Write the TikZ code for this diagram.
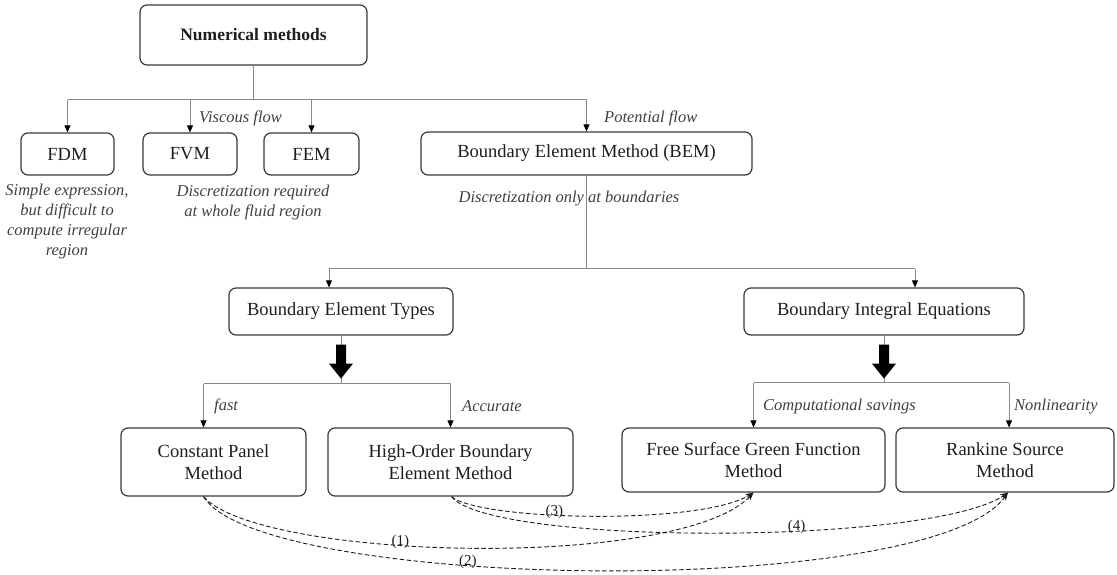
\documentclass[tikz,border=0pt]{standalone}
\usepackage{fontspec}
\setmainfont{Liberation Serif}
\usetikzlibrary{arrows.meta,calc}
\definecolor{boxline}{HTML}{3A3A3A}
\definecolor{wire}{HTML}{8A8A8A}
\definecolor{ink}{HTML}{1E1E1E}
\begin{document}
\begin{tikzpicture}[x=1pt,y=-1pt,
  box/.style={draw=boxline, line width=1.2pt, rounded corners=7pt, align=center,
    text=ink, inner sep=0pt, font=\fontsize{18.5}{22}\selectfont},
  note/.style={text=ink!85, font=\fontsize{16.5}{20}\selectfont\itshape,
    inner sep=0pt, align=center},
  wireline/.style={draw=wire, line width=0.8pt},
  wirearrow/.style={wireline, -{Triangle[length=7pt,width=6pt,color=black]}},
  link/.style={draw=ink, line width=0.9pt, dash pattern=on 4.5pt off 2.5pt,
    -{Stealth[length=8pt,width=6pt]}},
  tag/.style={font=\fontsize{15}{18}\selectfont, text=ink, inner sep=0pt, anchor=base},
  blockarrow/.pic={\fill[black] (-5,9) -- (5,9) -- (5,28) -- (12,28) -- (0,43)
    -- (-12,28) -- (-5,28) -- cycle;}
]
\useasboundingbox (0,0) rectangle (1117,575);

% boxes
\node[box, minimum width=227pt, minimum height=60pt,
  font=\fontsize{17.5}{21}\selectfont\bfseries] (nm) at (253.5,35) {Numerical methods};
\node[box, minimum width=93pt, minimum height=42pt] (fdm) at (67.5,154) {FDM};
\node[box, minimum width=94pt, minimum height=42pt] (fvm) at (190,154) {FVM};
\node[box, minimum width=95pt, minimum height=42pt] (fem) at (311.5,154) {FEM};
\node[box, minimum width=331pt, minimum height=43pt] (bem) at (586.5,153.5) {Boundary Element Method (BEM)};
\node[box, minimum width=224pt, minimum height=47pt] (bet) at (341,311.5) {Boundary Element Types};
\node[box, minimum width=280pt, minimum height=47pt] (bie) at (884,311.5) {Boundary Integral Equations};
\node[box, minimum width=185pt, minimum height=68pt] (cpm) at (213.5,462) {Constant Panel\\ Method};
\node[box, minimum width=245pt, minimum height=68pt] (hob) at (450.5,462) {High-Order Boundary\\ Element Method};
\node[box, minimum width=263pt, minimum height=64pt] (fsg) at (753.5,460) {Free Surface Green Function\\ Method};
\node[box, minimum width=218pt, minimum height=64pt] (rsm) at (1005,460) {Rankine Source\\ Method};

% notes
\node[note, anchor=west] (vf) at (199,118) {Viscous flow};
\node[note, anchor=west] (pf) at (604,118) {Potential flow};
\node[note] (fdmnote) at (67,222) {Simple expression,\\ but difficult to\\ compute irregular\\ region};
\node[note] (fvnote) at (253,203) {Discretization required\\ at whole fluid region};
\node[note] (bemnote) at (569,199) {Discretization only at boundaries};
\node[note, anchor=west] (fast) at (214,406) {fast};
\node[note, anchor=west] (acc) at (462,406) {Accurate};
\node[note, anchor=west] (cs) at (763,407) {Computational savings};
\node[note, anchor=west] (nl) at (1014,407) {Nonlinearity};

% first level branches
\coordinate (top) at ($(nm.south)+(0,34)$);
\draw[wireline] (nm.south) -- (top);
\draw[wireline] (fdm.north |- top) -- (bem.north |- top);
\foreach \n in {fdm,fvm,fem,bem} \draw[wirearrow] (\n.north |- top) -- (\n.north);

% BEM branches
\coordinate (mid) at ($(bem.south)+(0,93)$);
\coordinate (betin) at ($(bet.north)+(-12,0)$);
\coordinate (biein) at ($(bie.north)+(31,0)$);
\draw[wireline] (bem.south) -- (mid);
\draw[wireline] (betin |- mid) -- (biein |- mid);
\draw[wirearrow] (betin |- mid) -- (betin);
\draw[wirearrow] (biein |- mid) -- (biein);

% element types
\coordinate (lowA) at ($(bet.south)+(0,48)$);
\coordinate (cpmin) at ($(cpm.north)+(-10,0)$);
\draw[wireline] (bet.south) -- (lowA);
\pic at (bet.south) {blockarrow};
\draw[wireline] (cpmin |- lowA) -- (hob.north |- lowA);
\draw[wirearrow] (cpmin |- lowA) -- (cpmin);
\draw[wirearrow] (hob.north |- lowA) -- (hob.north);

% integral equations
\coordinate (lowB) at ($(bie.south)+(0,47)$);
\coordinate (rsmin) at ($(rsm.north)+(4,0)$);
\draw[wireline] (bie.south) -- (lowB);
\pic at (bie.south) {blockarrow};
\draw[wireline] (fsg.north |- lowB) -- (rsmin |- lowB);
\draw[wirearrow] (fsg.north |- lowB) -- (fsg.north);
\draw[wirearrow] (rsmin |- lowB) -- (rsmin);

% combinations
\coordinate (cpmout) at ($(cpm.south)+(-10,0)$);
\coordinate (hobout) at ($(hob.south)+(1,0)$);
\coordinate (rsmend) at ($(rsm.south)+(3,0)$);
\draw[link] (cpmout) .. controls +(57,64) and +(-74,78) .. (fsg.south) node[tag, pos=0.4] {(1)};
\draw[link] (cpmout) .. controls +(57,94) and +(-78,108) .. (rsmend) node[tag, pos=0.38] {(2)};
\draw[link] (hobout) .. controls +(28,24) and +(-54,33) .. (fsg.south) node[tag, pos=0.4] {(3)};
\draw[link] (hobout) .. controls +(38,49) and +(-78,53) .. (rsmend) node[tag, pos=0.61] {(4)};
\end{tikzpicture}
\end{document}
